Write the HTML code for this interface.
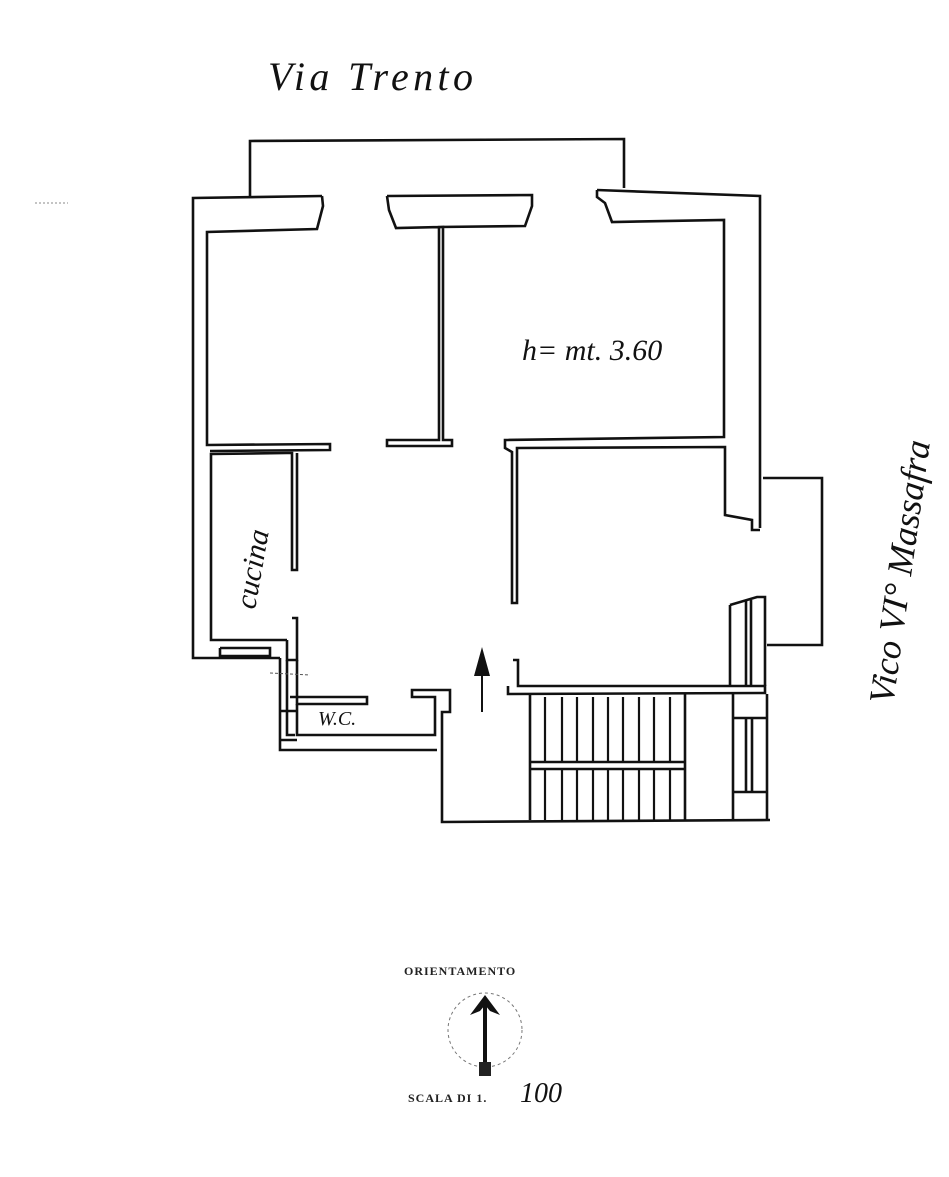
<!DOCTYPE html>
<html><head><meta charset="utf-8"><style>
body{margin:0;background:#fff;}
svg{display:block}
.h{font-family:"Liberation Serif",serif;font-style:italic;fill:#111}
</style></head><body>
<svg width="949" height="1177" viewBox="0 0 949 1177" xmlns="http://www.w3.org/2000/svg">
<g fill="none" stroke="#111" stroke-width="2.6" stroke-linejoin="miter">
<polyline points="250,197 250,141 624,139 624,188"/>
<polyline points="322,196 193,198 193,658 280,658"/>
<polyline points="322,196 323,206 317,229 207,232 207,445 330,444 330,450 210,451"/>
<polyline points="387,196 532,195 532,206 525,226 439,227 439,440 387,440 387,446 452,446 452,440 443,440 443,227 396,228 389,210 387,196"/>
<polyline points="597,190 760,196 760,528"/>
<polyline points="597,190 597,197 605,203 612,222 724,220 724,437 505,440 505,448 512,452 512,603 517,603 517,448 725,447 725,515 752,520 752,530 760,530"/>
<polyline points="763,478 822,478 822,645 767,645"/>
<polyline points="287,453 211,454 211,640 287,640"/>
<polyline points="287,453 292,453 292,570 297,570 297,453"/>
<polyline points="292,618 297,618 297,660 287,660 287,640"/>
<polyline points="220,648 270,648 270,656 220,656 220,648"/>
<polyline points="280,658 280,750 437,750"/>
<polyline points="287,660 287,735 295,735"/>
<polyline points="297,660 297,704 367,704 367,697 290,697"/>
<polyline points="297,704 297,735 435,735 435,697 412,697 412,690 450,690 450,712 442,712 442,822 770,820"/>
<line x1="280" y1="711" x2="297" y2="711"/>
<line x1="280" y1="740" x2="297" y2="740"/>
<polyline points="513,660 518,660 518,686 765,686 765,693 508,694 508,686"/>
<polyline points="730,605 757,597 765,597 765,686"/>
<polyline points="730,605 730,686"/>
<line x1="746" y1="600" x2="746" y2="686"/>
<line x1="751" y1="600" x2="751" y2="686"/>
<polyline points="733,694 733,820"/>
<polyline points="767,694 767,820"/>
<line x1="733" y1="718" x2="767" y2="718"/>
<line x1="733" y1="792" x2="767" y2="792"/>
<line x1="746" y1="718" x2="746" y2="792"/>
<line x1="752" y1="718" x2="752" y2="792"/>
<line x1="530" y1="694" x2="530" y2="820"/>
<line x1="685" y1="694" x2="685" y2="820"/>
<line x1="530" y1="762" x2="685" y2="762"/>
<line x1="530" y1="769" x2="685" y2="769"/>
<g stroke-width="2.2">
<line x1="545" y1="697" x2="545" y2="762"/><line x1="562" y1="697" x2="562" y2="762"/>
<line x1="577" y1="697" x2="577" y2="762"/><line x1="593" y1="697" x2="593" y2="762"/>
<line x1="608" y1="697" x2="608" y2="762"/><line x1="623" y1="697" x2="623" y2="762"/>
<line x1="639" y1="697" x2="639" y2="762"/><line x1="654" y1="697" x2="654" y2="762"/>
<line x1="670" y1="697" x2="670" y2="762"/>
<line x1="545" y1="769" x2="545" y2="820"/><line x1="562" y1="769" x2="562" y2="820"/>
<line x1="577" y1="769" x2="577" y2="820"/><line x1="593" y1="769" x2="593" y2="820"/>
<line x1="608" y1="769" x2="608" y2="820"/><line x1="623" y1="769" x2="623" y2="820"/>
<line x1="639" y1="769" x2="639" y2="820"/><line x1="654" y1="769" x2="654" y2="820"/>
<line x1="670" y1="769" x2="670" y2="820"/>
</g>
<line x1="482" y1="670" x2="482" y2="712" stroke-width="2"/>
</g>
<polygon points="482,647 474,676 490,676" fill="#111"/>
<line x1="270" y1="673" x2="310" y2="675" stroke="#555" stroke-width="1" stroke-dasharray="3,2"/>
<line x1="35" y1="203" x2="68" y2="203" stroke="#888" stroke-width="1" stroke-dasharray="2,2"/>
<text x="268" y="90" class="h" font-size="40" textLength="205" lengthAdjust="spacing">Via Trento</text>
<text x="522" y="360" class="h" font-size="30">h= mt. 3.60</text>
<text x="318" y="725" class="h" font-size="20">W.C.</text>
<text transform="translate(255,610) rotate(-80)" class="h" font-size="30">cucina</text>
<text transform="translate(893,705) rotate(-82)" class="h" font-size="36">Vico VI° Massafra</text>
<text x="404" y="975" font-family="Liberation Serif,serif" font-size="12" font-weight="bold" fill="#222" letter-spacing="1">ORIENTAMENTO</text>
<circle cx="485" cy="1030" r="37" fill="none" stroke="#777" stroke-width="1" stroke-dasharray="3,3"/>
<polygon points="485,995 470,1015 480,1011 485,1005 490,1011 500,1015" fill="#111"/>
<line x1="485" y1="1003" x2="485" y2="1065" stroke="#111" stroke-width="4"/>
<rect x="479" y="1062" width="12" height="14" fill="#222"/>
<text x="408" y="1102" font-family="Liberation Serif,serif" font-size="12" font-weight="bold" fill="#222" letter-spacing="1">SCALA DI 1.</text>
<text x="520" y="1102" class="h" font-size="28">100</text>
</svg>
</body></html>
